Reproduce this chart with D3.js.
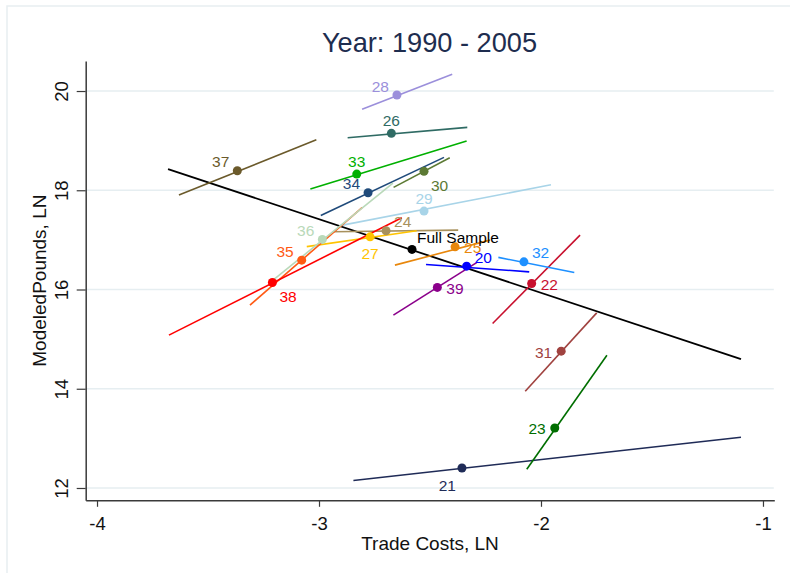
<!DOCTYPE html>
<html>
<head>
<meta charset="utf-8">
<script src="https://cdn.jsdelivr.net/npm/d3@7/dist/d3.min.js"></script>
<style>
  html, body { margin: 0; padding: 0; background: #ffffff; }
  svg { display: block; font-family: "Liberation Sans", Arial, Helvetica, sans-serif; }
</style>
</head>
<body>
<svg id="chart" width="790" height="573"></svg>
<script>
// Country groups (id labels) and their fitted-line ranges and mean points
const groups = ["20","21","22","23","24","25","26","27","28","29",
                "30","31","32","33","34","35","36","37","38","39"];
const fitX0 = [-2.518,-2.845,-2.218,-2.064,-2.938,-2.658,-2.871,-3.055,-2.806,-2.905,
               -2.664,-2.071,-2.192,-3.039,-2.992,-3.311,-3.207,-3.631,-3.676,-2.665];
const fitY0 = [16.505,12.150,15.316,12.378,17.163,16.491,19.058,16.864,19.631,17.288,
               18.058,13.950,16.647,18.024,17.493,15.685,16.189,17.903,15.080,15.483];
const fitX1 = [-2.053,-1.099,-1.824,-1.703,-2.373,-2.230,-2.332,-2.560,-2.400,-1.955,
               -2.411,-1.749,-1.850,-2.335,-2.437,-2.806,-2.667,-3.012,-2.627,-2.290];
const fitY1 = [16.356,13.023,17.096,14.676,17.197,16.995,19.268,17.183,20.337,18.111,
               18.655,15.529,16.344,18.992,18.663,17.651,18.145,19.018,17.445,16.542];
const meanX = [-2.335,-2.356,-2.042,-1.938,-2.698,-2.387,-2.674,-2.770,-2.649,-2.527,
               -2.527,-1.909,-2.077,-2.830,-2.779,-3.078,-2.985,-3.368,-3.210,-2.467];
const meanY = [16.471,12.404,16.122,13.210,17.183,16.860,19.147,17.062,19.919,17.580,
               18.381,14.757,16.558,18.326,17.949,16.592,17.010,18.393,16.142,16.042];

// Pooled regression over all groups
const fullLabel = "Full Sample";
const fullFitX = [-3.680, -1.099];
const fullFitY = [18.427, 14.596];
const fullMean = [-2.581, 16.808];

const xTicks = [-4, -3, -2, -1];
const yTicks = [12, 14, 16, 18, 20];

// Styling
const groupColors = ["#0000ff","#1f2b57","#c8102e","#006e00","#a8915c","#e8870c","#2f6b64","#ffc400","#9b8fdb","#a8d4e8",
                     "#5c7a34","#a0423f","#1e90ff","#00b000","#1f4a7a","#ff5a14","#b9d9b9","#6b5a2b","#ff0000","#8b008b"];
const labelClock = [2,7,3,9,2,3,12,6,10,12, 4,9,2,12,10,10,10,10,4,3];
const clockOffset = {
  1:  [5, -12, "start"],
  2:  [8, -9, "start"],
  3:  [9, 1, "start"],
  4:  [7, 14, "start"],
  6:  [0, 17, "middle"],
  7:  [-6, 18, "end"],
  9:  [-9, 1, "end"],
  10: [-8, -9, "end"],
  12: [0, -13, "middle"]
};

const svg = d3.select("#chart");

// outer graph frame
svg.append("rect")
  .attr("x", 7).attr("y", 6).attr("width", 820).attr("height", 620)
  .attr("fill", "none").attr("stroke", "#e8eef1").attr("stroke-width", 1.5);

const plot = { left: 85.7, right: 774.3, top: 61, bottom: 500.3 };

const x = d3.scaleLinear().domain([-4.051, -0.949]).range([plot.left, plot.right]);
const y = d3.scaleLinear().domain([11.752, 20.605]).range([plot.bottom, plot.top]);

// horizontal grid
svg.append("g").selectAll("line").data(yTicks).join("line")
  .attr("x1", plot.left).attr("x2", plot.right - 0.5)
  .attr("y1", d => y(d)).attr("y2", d => y(d))
  .attr("stroke", "#e6eef1").attr("stroke-width", 1.5);

// axes
const xAxis = svg.append("g")
  .attr("transform", `translate(0,${plot.bottom})`)
  .call(d3.axisBottom(x).tickValues(xTicks).tickSize(6.5).tickSizeOuter(0)
        .tickFormat(d => String(d).replace("−", "-")));
const yAxis = svg.append("g")
  .attr("transform", `translate(${plot.left},0)`)
  .call(d3.axisLeft(y).tickValues(yTicks).tickSize(9).tickSizeOuter(0));

[xAxis, yAxis].forEach(a => {
  a.select(".domain").attr("stroke", "#3a3a3a").attr("stroke-width", 1.5);
  a.selectAll(".tick line").attr("stroke", "#3a3a3a").attr("stroke-width", 1.2);
  a.selectAll(".tick text").attr("fill", "#111").attr("font-size", 18.5)
    .attr("font-family", "Liberation Sans, Arial, sans-serif");
});
xAxis.selectAll(".tick text").attr("y", 30).attr("dy", 0);
yAxis.selectAll(".tick text")
  .attr("transform", "rotate(-90)")
  .attr("x", 0).attr("y", -17.4).attr("dy", 0)
  .attr("text-anchor", "middle");

// axis titles
svg.append("text")
  .attr("x", (plot.left + plot.right) / 2).attr("y", 549.5)
  .attr("text-anchor", "middle").attr("font-size", 19).attr("fill", "#111")
  .text("Trade Costs, LN");
svg.append("text")
  .attr("transform", `translate(45.5,${(plot.top + plot.bottom) / 2}) rotate(-90)`)
  .attr("text-anchor", "middle").attr("font-size", 19).attr("fill", "#111")
  .text("ModeledPounds, LN");

// chart title
svg.append("text")
  .attr("x", 429.5).attr("y", 52.3)
  .attr("text-anchor", "middle").attr("font-size", 27.2).attr("fill", "#1e2d4f")
  .text("Year: 1990 - 2005");

// pooled fit
svg.append("line")
  .attr("x1", x(fullFitX[0])).attr("y1", y(fullFitY[0]))
  .attr("x2", x(fullFitX[1])).attr("y2", y(fullFitY[1]))
  .attr("stroke", "#000").attr("stroke-width", 1.8);

// group fits
const rows = groups.map((g, i) => ({
  id: g, x0: fitX0[i], y0: fitY0[i], x1: fitX1[i], y1: fitY1[i],
  mx: meanX[i], my: meanY[i], color: groupColors[i], clock: labelClock[i]
}));

svg.append("g").selectAll("line").data(rows).join("line")
  .attr("x1", d => x(d.x0)).attr("y1", d => y(d.y0))
  .attr("x2", d => x(d.x1)).attr("y2", d => y(d.y1))
  .attr("stroke", d => d.color).attr("stroke-width", 1.6);

// mean markers
svg.append("g").selectAll("circle").data(rows).join("circle")
  .attr("cx", d => x(d.mx)).attr("cy", d => y(d.my)).attr("r", 4.5)
  .attr("fill", d => d.color);
svg.append("circle")
  .attr("cx", x(fullMean[0])).attr("cy", y(fullMean[1])).attr("r", 4.5)
  .attr("fill", "#000");

// marker labels
svg.append("g").selectAll("text").data(rows).join("text")
  .attr("x", d => x(d.mx) + clockOffset[d.clock][0])
  .attr("y", d => y(d.my) + clockOffset[d.clock][1])
  .attr("text-anchor", d => clockOffset[d.clock][2])
  .attr("dominant-baseline", "central")
  .attr("font-size", 15.5)
  .attr("fill", d => d.color)
  .text(d => d.id);
svg.append("text")
  .attr("x", x(fullMean[0]) + clockOffset[1][0])
  .attr("y", y(fullMean[1]) + clockOffset[1][1])
  .attr("text-anchor", clockOffset[1][2])
  .attr("dominant-baseline", "central")
  .attr("font-size", 15.5).attr("fill", "#000")
  .text(fullLabel);
</script>
</body>
</html>
